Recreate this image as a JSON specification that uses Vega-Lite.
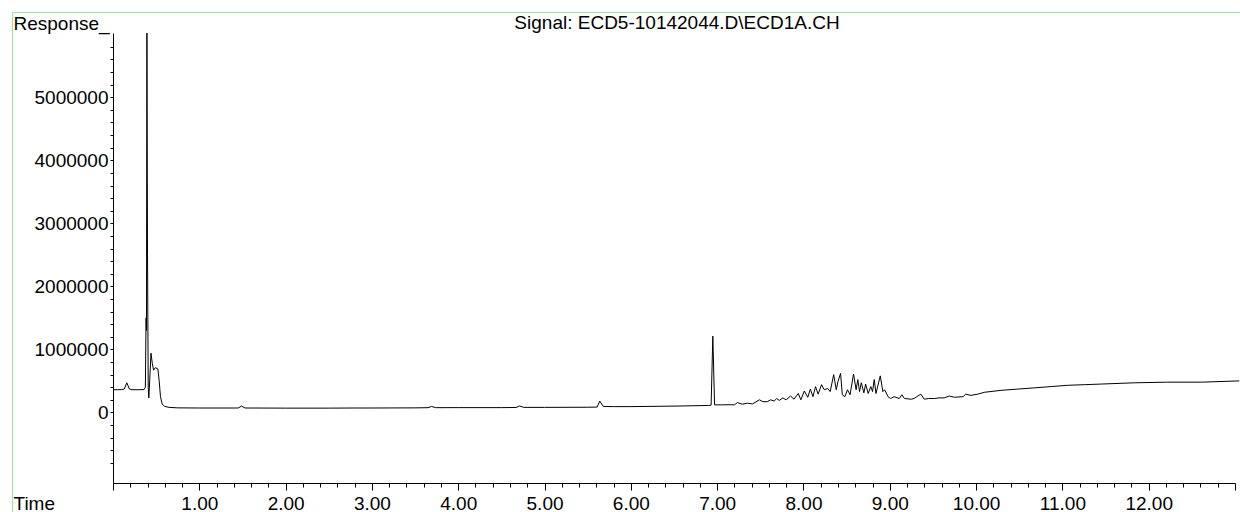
{
  "$schema": "https://vega.github.io/schema/vega-lite/v6.json",
  "autosize": {"type": "none"},
  "padding": {"left": 12, "top": 12, "right": 0, "bottom": 0},
  "width": 1240,
  "height": 501,
  "background": "white",
  "config": {
    "view": {"stroke": "#99e699", "strokeWidth": 1},
    "font": "Liberation Sans",
    "axis": {"grid": false, "domainColor": "#000", "tickColor": "#000", "labelColor": "#000", "titleColor": "#000", "labelFont": "Liberation Sans", "titleFont": "Liberation Sans", "labelFontSize": 19, "titleFontSize": 19, "titleFontWeight": "normal", "domainWidth": 1, "tickWidth": 1}
  },
  "title": {"text": "Signal: ECD5-10142044.D\\ECD1A.CH", "anchor": "middle", "frame": "group", "orient": "top", "baseline": "alphabetic", "offset": 0, "dy": 36, "dx": 45, "fontSize": 19, "font": "Liberation Sans", "fontWeight": "normal", "color": "#000"},
  "data": {"values": [
    {"t": 0.00, "r": 360000}, {"t": 0.05, "r": 360000}, {"t": 0.10, "r": 362000}, {"t": 0.13, "r": 370000},
    {"t": 0.16, "r": 470000}, {"t": 0.19, "r": 372000}, {"t": 0.22, "r": 360000}, {"t": 0.30, "r": 360000},
    {"t": 0.36, "r": 362000}, {"t": 0.375, "r": 400000}, {"t": 0.383, "r": 1500000}, {"t": 0.388, "r": 1300000},
    {"t": 0.393, "r": 6020000}, {"t": 0.400, "r": 2500000}, {"t": 0.408, "r": 400000}, {"t": 0.415, "r": 230000},
    {"t": 0.425, "r": 500000}, {"t": 0.44, "r": 940000}, {"t": 0.455, "r": 780000}, {"t": 0.47, "r": 670000},
    {"t": 0.49, "r": 710000}, {"t": 0.52, "r": 690000}, {"t": 0.535, "r": 500000}, {"t": 0.55, "r": 250000},
    {"t": 0.57, "r": 130000}, {"t": 0.60, "r": 95000}, {"t": 0.65, "r": 80000}, {"t": 0.75, "r": 72000},
    {"t": 1.00, "r": 70000}, {"t": 1.45, "r": 70000}, {"t": 1.49, "r": 100000}, {"t": 1.53, "r": 70000},
    {"t": 2.0, "r": 68000}, {"t": 2.5, "r": 68000}, {"t": 2.8, "r": 70000}, {"t": 3.0, "r": 70000},
    {"t": 3.5, "r": 72000}, {"t": 3.65, "r": 75000}, {"t": 3.69, "r": 95000}, {"t": 3.74, "r": 75000},
    {"t": 4.0, "r": 76000}, {"t": 4.5, "r": 76000}, {"t": 4.67, "r": 78000}, {"t": 4.71, "r": 102000},
    {"t": 4.76, "r": 80000}, {"t": 5.0, "r": 80000}, {"t": 5.5, "r": 82000}, {"t": 5.61, "r": 85000},
    {"t": 5.64, "r": 180000}, {"t": 5.68, "r": 95000}, {"t": 5.8, "r": 92000}, {"t": 6.0, "r": 92000},
    {"t": 6.5, "r": 100000}, {"t": 6.9, "r": 110000}, {"t": 6.93, "r": 115000}, {"t": 6.95, "r": 1210000},
    {"t": 6.97, "r": 120000}, {"t": 7.05, "r": 120000}, {"t": 7.15, "r": 122000}, {"t": 7.20, "r": 120000},
    {"t": 7.235, "r": 156000}, {"t": 7.29, "r": 130000}, {"t": 7.35, "r": 146000}, {"t": 7.41, "r": 135000},
    {"t": 7.49, "r": 200000}, {"t": 7.53, "r": 170000}, {"t": 7.58, "r": 170000}, {"t": 7.62, "r": 200000},
    {"t": 7.66, "r": 180000}, {"t": 7.69, "r": 220000}, {"t": 7.72, "r": 190000}, {"t": 7.76, "r": 230000},
    {"t": 7.80, "r": 200000}, {"t": 7.85, "r": 260000}, {"t": 7.89, "r": 210000}, {"t": 7.94, "r": 300000},
    {"t": 7.97, "r": 200000}, {"t": 8.01, "r": 340000}, {"t": 8.05, "r": 240000}, {"t": 8.08, "r": 370000},
    {"t": 8.11, "r": 250000}, {"t": 8.14, "r": 410000}, {"t": 8.17, "r": 290000}, {"t": 8.21, "r": 440000},
    {"t": 8.24, "r": 360000}, {"t": 8.28, "r": 380000}, {"t": 8.31, "r": 330000}, {"t": 8.35, "r": 600000},
    {"t": 8.38, "r": 360000}, {"t": 8.40, "r": 490000}, {"t": 8.43, "r": 620000}, {"t": 8.45, "r": 280000},
    {"t": 8.48, "r": 250000}, {"t": 8.51, "r": 360000}, {"t": 8.54, "r": 280000}, {"t": 8.58, "r": 610000},
    {"t": 8.61, "r": 360000}, {"t": 8.63, "r": 520000}, {"t": 8.65, "r": 330000}, {"t": 8.67, "r": 470000},
    {"t": 8.70, "r": 310000}, {"t": 8.72, "r": 450000}, {"t": 8.75, "r": 300000}, {"t": 8.78, "r": 410000},
    {"t": 8.80, "r": 330000}, {"t": 8.82, "r": 520000}, {"t": 8.84, "r": 300000}, {"t": 8.89, "r": 580000},
    {"t": 8.92, "r": 330000}, {"t": 8.94, "r": 360000}, {"t": 8.98, "r": 250000}, {"t": 9.01, "r": 220000},
    {"t": 9.05, "r": 250000}, {"t": 9.11, "r": 220000}, {"t": 9.14, "r": 280000}, {"t": 9.17, "r": 220000},
    {"t": 9.25, "r": 210000}, {"t": 9.28, "r": 220000}, {"t": 9.36, "r": 290000}, {"t": 9.40, "r": 210000},
    {"t": 9.45, "r": 220000}, {"t": 9.52, "r": 220000}, {"t": 9.57, "r": 230000}, {"t": 9.63, "r": 230000},
    {"t": 9.69, "r": 260000}, {"t": 9.75, "r": 240000}, {"t": 9.85, "r": 250000}, {"t": 9.88, "r": 290000},
    {"t": 9.94, "r": 270000}, {"t": 10.02, "r": 290000}, {"t": 10.10, "r": 320000}, {"t": 10.29, "r": 350000},
    {"t": 10.48, "r": 370000}, {"t": 10.68, "r": 390000}, {"t": 10.87, "r": 410000}, {"t": 11.06, "r": 430000},
    {"t": 11.26, "r": 440000}, {"t": 11.45, "r": 450000}, {"t": 11.84, "r": 470000}, {"t": 12.22, "r": 480000},
    {"t": 12.61, "r": 480000}, {"t": 13.05, "r": 500000}
  ]},
  "mark": {"type": "line", "color": "#000", "strokeWidth": 1, "clip": false},
  "encoding": {
    "x": {
      "field": "t", "type": "quantitative",
      "scale": {"domain": [0, 13], "range": [101, 1223], "zero": false, "nice": false},
      "axis": {
        "orient": "bottom", "offset": -30, "title": "Time",
        "titleAnchor": "start", "titleAlign": "left", "titleBaseline": "alphabetic", "titleX": 1, "titleY": 26.5,
        "values": [0,0.2,0.4,0.6,0.8,1,1.2,1.4,1.6,1.8,2,2.2,2.4,2.6,2.8,3,3.2,3.4,3.6,3.8,4,4.2,4.4,4.6,4.8,5,5.2,5.4,5.6,5.8,6,6.2,6.4,6.6,6.8,7,7.2,7.4,7.6,7.8,8,8.2,8.4,8.6,8.8,9,9.2,9.4,9.6,9.8,10,10.2,10.4,10.6,10.8,11,11.2,11.4,11.6,11.8,12,12.2,12.4,12.6,12.8,13],
        "labelExpr": "abs(datum.value - round(datum.value)) < 0.001 && datum.value >= 1 && datum.value <= 12 ? format(datum.value, '.2f') : ''",
        "tickSize": {"condition": {"test": "abs(datum.value - round(datum.value)) < 0.001", "value": 7}, "value": 4},
        "labelBaseline": "alphabetic", "labelPadding": 19.5, "labelOverlap": false, "labelFlush": false, "labelBound": false
      }
    },
    "y": {
      "field": "r", "type": "quantitative",
      "scale": {"domain": [-1120000, 6020000], "range": [471, 21], "zero": false, "nice": false},
      "axis": {
        "orient": "left", "offset": -101, "title": "Response_",
        "titleAngle": 0, "titleAnchor": "start", "titleAlign": "left", "titleBaseline": "alphabetic", "titleX": -100, "titleY": 17,
        "values": [-800000,-600000,-400000,-200000,0,200000,400000,600000,800000,1000000,1200000,1400000,1600000,1800000,2000000,2200000,2400000,2600000,2800000,3000000,3200000,3400000,3600000,3800000,4000000,4200000,4400000,4600000,4800000,5000000,5200000,5400000,5600000,5800000],
        "labelExpr": "datum.value % 1000000 == 0 && datum.value >= 0 ? format(datum.value, 'd') : ''",
        "tickSize": 3, "labelPadding": 2, "labelBaseline": "middle", "labelOverlap": false, "labelFlush": false, "labelBound": false
      }
    }
  }
}
